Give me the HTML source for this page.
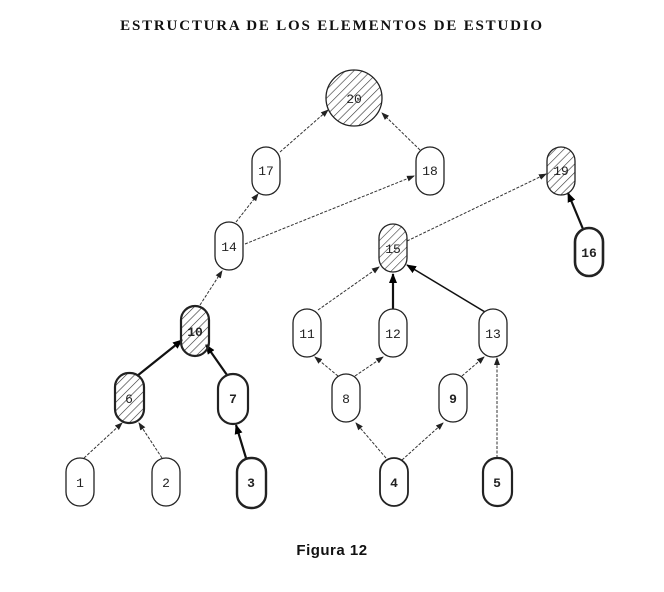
<!DOCTYPE html>
<html><head><style>
body{margin:0;background:#fff;width:664px;height:592px;overflow:hidden}
svg{display:block}
text{font-family:"Liberation Mono",monospace;font-size:13px;fill:#222}
</style></head><body>
<svg width="664" height="592" viewBox="0 0 664 592">
<defs>
<pattern id="h" patternUnits="userSpaceOnUse" width="6" height="6" patternTransform="rotate(45)">
<line x1="0" y1="0" x2="0" y2="6" stroke="#333" stroke-width="1.2"/>
</pattern>
<marker id="a" markerWidth="8" markerHeight="8" refX="7" refY="4" orient="auto" markerUnits="userSpaceOnUse"><path d="M0,1 L8,4 L0,7z" fill="#222"/></marker>
<marker id="b" markerWidth="10" markerHeight="10" refX="9" refY="5" orient="auto" markerUnits="userSpaceOnUse"><path d="M0,1 L10,5 L0,9z" fill="#000"/></marker>
</defs>
<text x="332" y="30" text-anchor="middle" style="font-family:'Liberation Serif',serif;font-weight:bold;font-size:15px;letter-spacing:1.8px;fill:#111">ESTRUCTURA DE LOS ELEMENTOS DE ESTUDIO</text>
<text x="332" y="555" text-anchor="middle" style="font-family:'Liberation Sans',sans-serif;font-weight:bold;font-size:15px;letter-spacing:0.5px;fill:#111">Figura 12</text>
<g stroke="#333" stroke-width="1" fill="none" stroke-dasharray="3 1.5">
<line x1="84" y1="458" x2="122" y2="423" marker-end="url(#a)"/>
<line x1="162" y1="458" x2="139" y2="423" marker-end="url(#a)"/>
<line x1="200" y1="305" x2="222" y2="271" marker-end="url(#a)"/>
<line x1="236" y1="222" x2="258" y2="194" marker-end="url(#a)"/>
<line x1="245" y1="244" x2="414" y2="176" marker-end="url(#a)"/>
<line x1="280" y1="152" x2="328" y2="110" marker-end="url(#a)"/>
<line x1="420" y1="150" x2="382" y2="113" marker-end="url(#a)"/>
<line x1="386" y1="458" x2="356" y2="423" marker-end="url(#a)"/>
<line x1="402" y1="460" x2="443" y2="423" marker-end="url(#a)"/>
<line x1="338" y1="376" x2="315" y2="357" marker-end="url(#a)"/>
<line x1="355" y1="376" x2="383" y2="357" marker-end="url(#a)"/>
<line x1="462" y1="376" x2="484" y2="357" marker-end="url(#a)"/>
<line x1="497" y1="458" x2="497" y2="358" marker-end="url(#a)"/>
<line x1="318" y1="310" x2="379" y2="267" marker-end="url(#a)"/>
<line x1="407" y1="241" x2="546" y2="174" marker-end="url(#a)"/>
</g>
<g stroke="#111" stroke-width="2.2" fill="none">
<line x1="137" y1="376" x2="182" y2="340" marker-end="url(#b)"/>
<line x1="227" y1="375" x2="206" y2="345" marker-end="url(#b)"/>
<line x1="246" y1="458" x2="236" y2="425" marker-end="url(#b)"/>
<line x1="393" y1="310" x2="393" y2="274" marker-end="url(#b)"/>
<line x1="485" y1="312" x2="407" y2="265" marker-end="url(#b)" stroke-width="1.6"/>
<line x1="583" y1="229" x2="568" y2="193" marker-end="url(#b)"/>
</g>
<g stroke="#222" stroke-width="1.3" fill="#fff">
<circle cx="354" cy="98" r="28" fill="url(#h)"/>
<rect x="252" y="147" width="28" height="48" rx="14"/>
<rect x="416" y="147" width="28" height="48" rx="14"/>
<rect x="547" y="147" width="28" height="48" rx="14" fill="url(#h)"/>
<rect x="215" y="222" width="28" height="48" rx="14"/>
<rect x="379" y="224" width="28" height="48" rx="14" fill="url(#h)"/>
<rect x="575" y="228" width="28" height="48" rx="14" stroke-width="2.6"/>
<rect x="181" y="306" width="28" height="50" rx="14" fill="url(#h)" stroke-width="2.2"/>
<rect x="293" y="309" width="28" height="48" rx="14"/>
<rect x="379" y="309" width="28" height="48" rx="14"/>
<rect x="479" y="309" width="28" height="48" rx="14"/>
<rect x="115" y="373" width="29" height="50" rx="14" fill="url(#h)" stroke-width="2.2"/>
<rect x="218" y="374" width="30" height="50" rx="15" stroke-width="2.2"/>
<rect x="332" y="374" width="28" height="48" rx="14"/>
<rect x="439" y="374" width="28" height="48" rx="14"/>
<rect x="66" y="458" width="28" height="48" rx="14"/>
<rect x="152" y="458" width="28" height="48" rx="14"/>
<rect x="237" y="458" width="29" height="50" rx="14" stroke-width="2.4"/>
<rect x="380" y="458" width="28" height="48" rx="14" stroke-width="1.8"/>
<rect x="483" y="458" width="29" height="48" rx="14" stroke-width="2.2"/>
</g>
<g text-anchor="middle">
<text x="354" y="103">20</text>
<text x="266" y="175">17</text>
<text x="430" y="175">18</text>
<text x="561" y="175">19</text>
<text x="229" y="251">14</text>
<text x="393" y="253">15</text>
<text x="589" y="257" style="font-weight:bold">16</text>
<text x="195" y="336" style="font-weight:bold">10</text>
<text x="307" y="338">11</text>
<text x="393" y="338">12</text>
<text x="493" y="338">13</text>
<text x="129" y="403">6</text>
<text x="233" y="403" style="font-weight:bold">7</text>
<text x="346" y="403">8</text>
<text x="453" y="403" style="font-weight:bold">9</text>
<text x="80" y="487">1</text>
<text x="166" y="487">2</text>
<text x="251" y="487" style="font-weight:bold">3</text>
<text x="394" y="487" style="font-weight:bold">4</text>
<text x="497" y="487" style="font-weight:bold">5</text>
</g>
</svg>
</body></html>
